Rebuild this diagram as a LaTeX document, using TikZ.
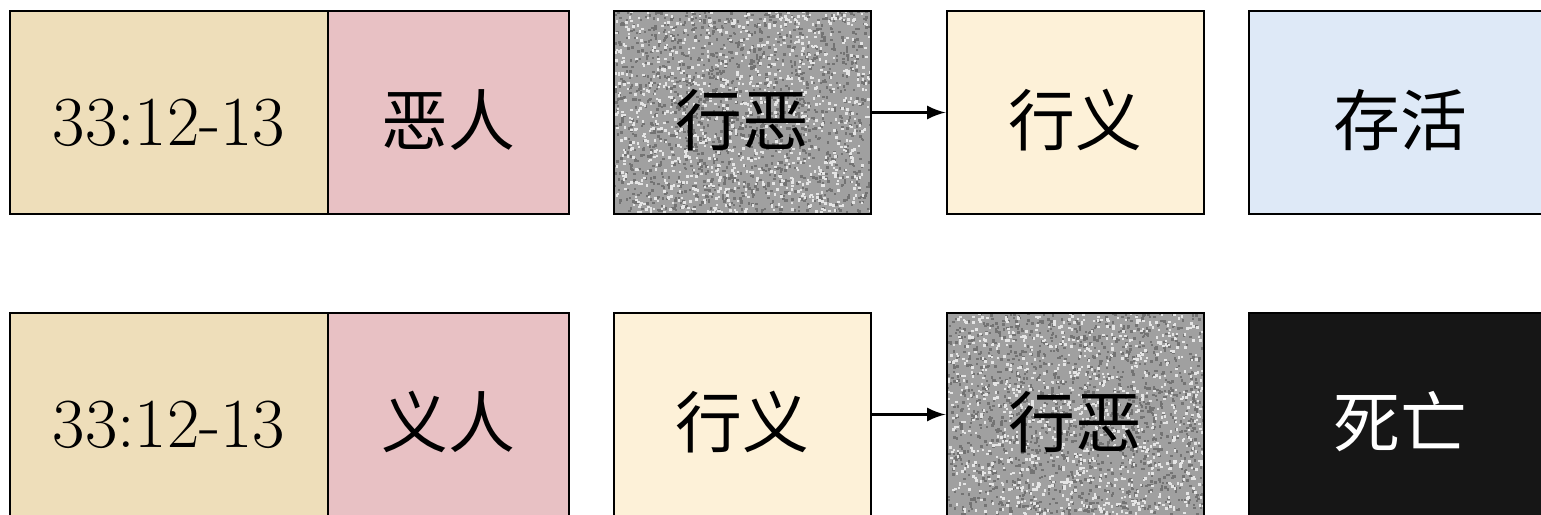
\documentclass[tikz,border=0pt]{standalone}
\usepackage{fontspec}
\newfontfamily\cjk{Noto Sans CJK SC}
\usetikzlibrary{shapes,arrows,positioning}

\definecolor{parch}{RGB}{238,222,186}
\definecolor{rose}{RGB}{232,193,196}
\definecolor{cream}{RGB}{253,241,216}
\definecolor{sky}{RGB}{222,233,247}
\definecolor{grain}{RGB}{160,160,160}
\definecolor{coal}{RGB}{22,22,22}

\tikzset{
  tile/.style={draw=black, line width=0.8pt, inner sep=0pt, minimum height=2.03cm,
    minimum width=2.57cm, text height=0.73cm, text depth=0.08cm,
    font=\cjk\fontsize{19}{23}\selectfont},
  noisy/.style={fill=grain, path picture={
    \foreach \k in {1,...,1500}{
      \pgfmathsetmacro\u{rnd}\pgfmathsetmacro\v{rnd}
      \fill[black!55] ([xshift=\u*2.6cm, yshift=\v*2.06cm]path picture bounding box.south west) rectangle ++(2.5,-2.5);
    }
    \foreach \k in {1,...,1100}{
      \pgfmathsetmacro\u{rnd}\pgfmathsetmacro\v{rnd}
      \fill[white!90!black] ([xshift=\u*2.6cm, yshift=\v*2.06cm]path picture bounding box.south west) rectangle ++(2.5,-2.5);
    }}},
  link/.style={-latex, line width=0.8pt}
}

\begin{document}
\begin{tikzpicture}[x=0.01cm,y=-0.01cm]
\pgfmathsetseed{7}
\useasboundingbox (0,0) rectangle (1541,515);
\clip (0,0) rectangle (1541,515);

% upper row
\node[tile,fill=parch,minimum width=3.18cm,font=\fontsize{20}{24}\selectfont] (refA) at (169,112.5) {33:12-13};
\node[tile,fill=rose,minimum width=2.41cm] (wicked) at (448.5,112.5) {恶人};
\node[tile,noisy] (doevilA) at (742.5,112.5) {行恶};
\node[tile,fill=cream] (dogoodA) at (1075.5,112.5) {行义};
\node[tile,fill=sky,minimum width=3.02cm] (live) at (1400,112.5) {存活};
\draw[link] (doevilA) -- (dogoodA);

% lower row
\node[tile,fill=parch,minimum width=3.18cm,font=\fontsize{20}{24}\selectfont] (refB) at (169,414.5) {33:12-13};
\node[tile,fill=rose,minimum width=2.41cm] (righteous) at (448.5,414.5) {义人};
\node[tile,fill=cream] (dogoodB) at (742.5,414.5) {行义};
\node[tile,noisy] (doevilB) at (1075.5,414.5) {行恶};
\node[tile,fill=coal,text=white,minimum width=3.02cm] (die) at (1400,414.5) {死亡};
\draw[link] (dogoodB) -- (doevilB);
\end{tikzpicture}
\end{document}
